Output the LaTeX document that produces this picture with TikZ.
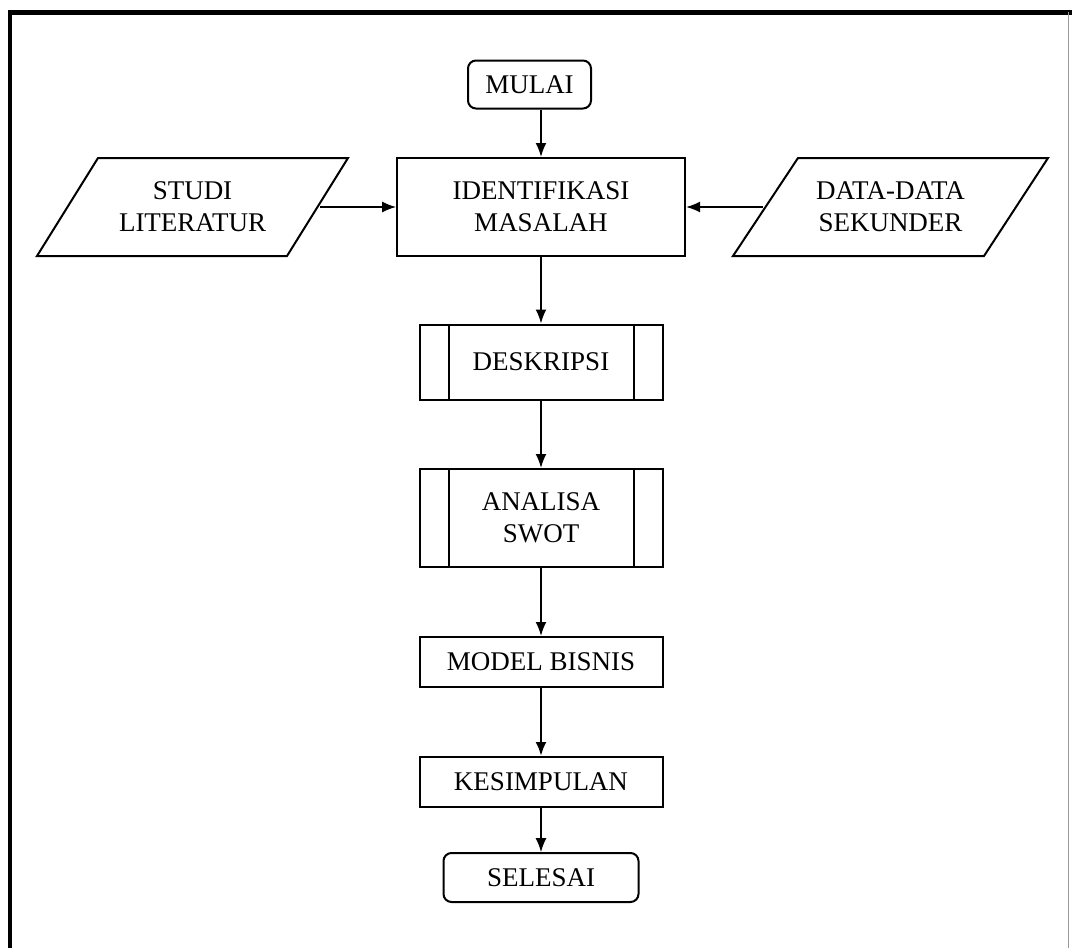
\documentclass[tikz,border=0pt]{standalone}
\usepackage{fontspec}
\setmainfont{Liberation Serif}
\usetikzlibrary{arrows.meta}
\tikzset{
  box/.style={draw, line width=2pt, minimum width=243pt, align=center, inner sep=0pt},
  term/.style={box, rounded corners=8pt},
  flow/.style={line width=1.8pt, -{Latex[length=14pt,width=11pt]}},
  txt/.style={align=center, inner sep=0pt},
  para/.style={draw, line width=2pt, line join=miter},
}
\begin{document}
\begin{tikzpicture}[x=1pt,y=-1pt,font=\fontsize{27}{32}\selectfont]
\useasboundingbox (0,0) rectangle (1072,948);
% frame
\draw[line width=5pt] (8,12) -- (1072,12);
\draw[line width=4pt] (10,10) -- (10,948);
\draw[line width=1pt, black!40] (1068,12) -- (1068,948);

% nodes
\node[term, minimum width=123pt, minimum height=48pt] (mulai) at (529.5,84.5) {MULAI};
\node[box, minimum width=288pt, minimum height=98pt] (idn) at (541,207) {IDENTIFIKASI\\MASALAH};
\node[txt] (studi) at (192.5,207) {STUDI\\LITERATUR};
\node[txt] (data) at (890.5,207) {DATA-DATA\\SEKUNDER};
\node[box, minimum height=75pt] (desk) at (541,362) {DESKRIPSI};
\node[box, minimum height=98pt] (swot) at (541,518) {ANALISA\\SWOT};
\node[box, minimum height=50pt] (model) at (541,662) {MODEL BISNIS};
\node[box, minimum height=50pt] (kes) at (541,782) {KESIMPULAN};
\node[term, minimum width=195pt, minimum height=49pt] (sel) at (541,877.5) {SELESAI};

% parallelograms
\draw[para] (98,158) -- (348,158) -- (287,256) -- (37,256) -- cycle;
\draw[para] (798,158) -- (1048,158) -- (984,256) -- (733,256) -- cycle;
\coordinate (studiR) at (320,207);
\coordinate (dataL) at (763,207);

% subroutine inner lines
\foreach \n in {desk,swot}{
  \draw[line width=2pt] ([xshift=30pt]\n.north west) -- ([xshift=30pt]\n.south west);
  \draw[line width=2pt] ([xshift=-30pt]\n.north east) -- ([xshift=-30pt]\n.south east);
}

% connectors
\draw[flow] (mulai.south -| idn.north) -- (idn.north);
\draw[flow, line width=1.2pt] (studiR) -- (idn.west);
\draw[flow] (dataL) -- (idn.east);
\draw[flow] (idn.south) -- (desk.north);
\draw[flow] (desk.south) -- (swot.north);
\draw[flow] (swot.south) -- (model.north);
\draw[flow, line width=2.4pt] (model.south) -- (kes.north);
\draw[flow, line width=1.2pt] (kes.south) -- (sel.north);
\end{tikzpicture}
\end{document}
